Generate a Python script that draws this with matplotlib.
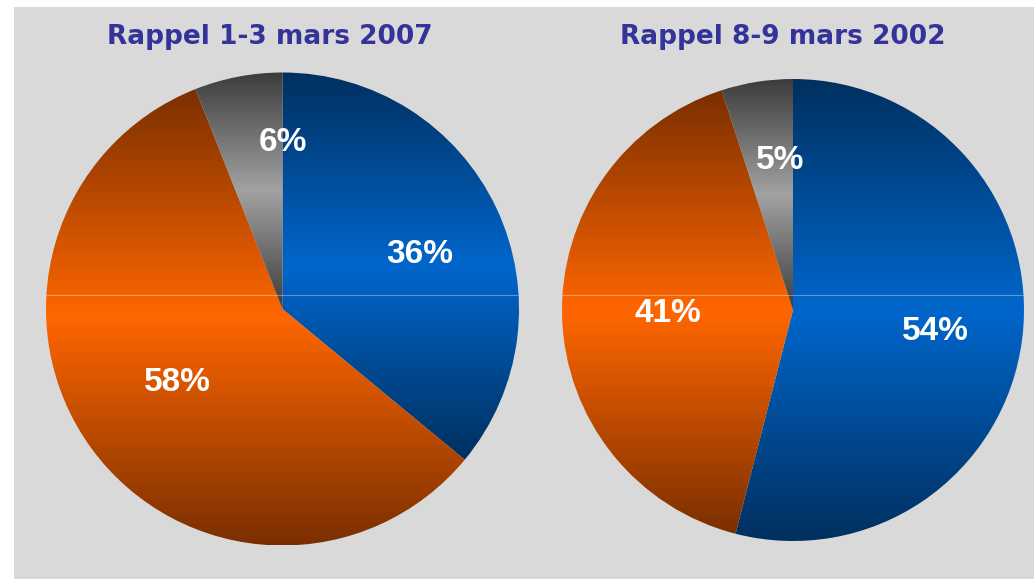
import matplotlib
matplotlib.use("Agg")
import matplotlib.pyplot as plt
import numpy as np
from matplotlib.colors import LinearSegmentedColormap
from matplotlib.patches import Rectangle, Circle

# ---------------- data ----------------
titles = ["Rappel 1-3 mars 2007", "Rappel 8-9 mars 2002"]
categories = ["Bleu", "Orange", "Gris"]
values_2007 = [36, 58, 6]
values_2002 = [54, 41, 5]
series = [values_2007, values_2002]

# ---------------- style / layout ----------------
W, H = 1034, 579
dark_colors = ["#00305f", "#7a2f00", "#3c3c3c"]
bright_colors = ["#0066cc", "#ff6600", "#a2a2a2"]
bg_color = "#d9d9d9"
title_color = "#333399"

# pie centre (px) and radius (px)
pie_geom = [(282.5, 309, 236.5), (793, 310, 231)]
title_x = [270, 783]
title_y = 37
# label positions in radius units (dx, dy)
label_pos = [
    [(0.581, 0.232), (-0.446, -0.309), (0.0, 0.702)],
    [(0.615, -0.095), (-0.541, -0.013), (-0.056, 0.649)],
]
seam_px = 295

fig = plt.figure(figsize=(W / 100, H / 100), dpi=100)
fig.patch.set_facecolor("white")
fig.add_artist(Rectangle((14 / W, 0), 1 - 14 / W, 1 - 7 / H,
                         transform=fig.transFigure, facecolor=bg_color,
                         edgecolor="none", zorder=0))

for k, vals in enumerate(series):
    cx, cy, r = pie_geom[k]
    ax = fig.add_axes([(cx - r) / W, (H - cy - r) / H, 2 * r / W, 2 * r / H])
    ax.set_facecolor("none")
    wedges, _ = ax.pie(vals, startangle=90, counterclock=False, radius=1,
                       colors=bright_colors, wedgeprops=dict(linewidth=0))
    ax.set_xlim(-1, 1)
    ax.set_ylim(-1, 1)
    ax.axis("off")
    for i, w in enumerate(wedges):
        ext = w.get_path().get_extents()
        cmap = LinearSegmentedColormap.from_list(
            "g%d" % i, [dark_colors[i], bright_colors[i], dark_colors[i]])
        grad = np.linspace(0, 1, 256).reshape(-1, 1)
        im = ax.imshow(grad, cmap=cmap, origin="lower", aspect="auto",
                       extent=[-1, 1, ext.y0, ext.y1], interpolation="bilinear",
                       zorder=2)
        im.set_clip_path(w)
        w.set_facecolor("none")
    ax.set_xlim(-1, 1)
    ax.set_ylim(-1, 1)
    # seam line of the gradient rendering
    ys = (cy - seam_px) / r
    ln, = ax.plot([-1, 1], [ys, ys], color="white", alpha=0.35, lw=0.8, zorder=3)
    circ = Circle((0, 0), 1, transform=ax.transData)
    ln.set_clip_path(circ)
    for i, v in enumerate(vals):
        dx, dy = label_pos[k][i]
        ax.text(dx, dy, "%d%%" % v, color="white", fontsize=24,
                fontweight="bold", family=["Liberation Sans", "DejaVu Sans"],
                ha="center", va="center", zorder=5)
    fig.text(title_x[k] / W, 1 - title_y / H, titles[k], color=title_color,
             fontsize=19, fontweight="bold", family=["DejaVu Sans"],
             ha="center", va="center")

fig.savefig("out.png", dpi=100, facecolor=fig.get_facecolor())
